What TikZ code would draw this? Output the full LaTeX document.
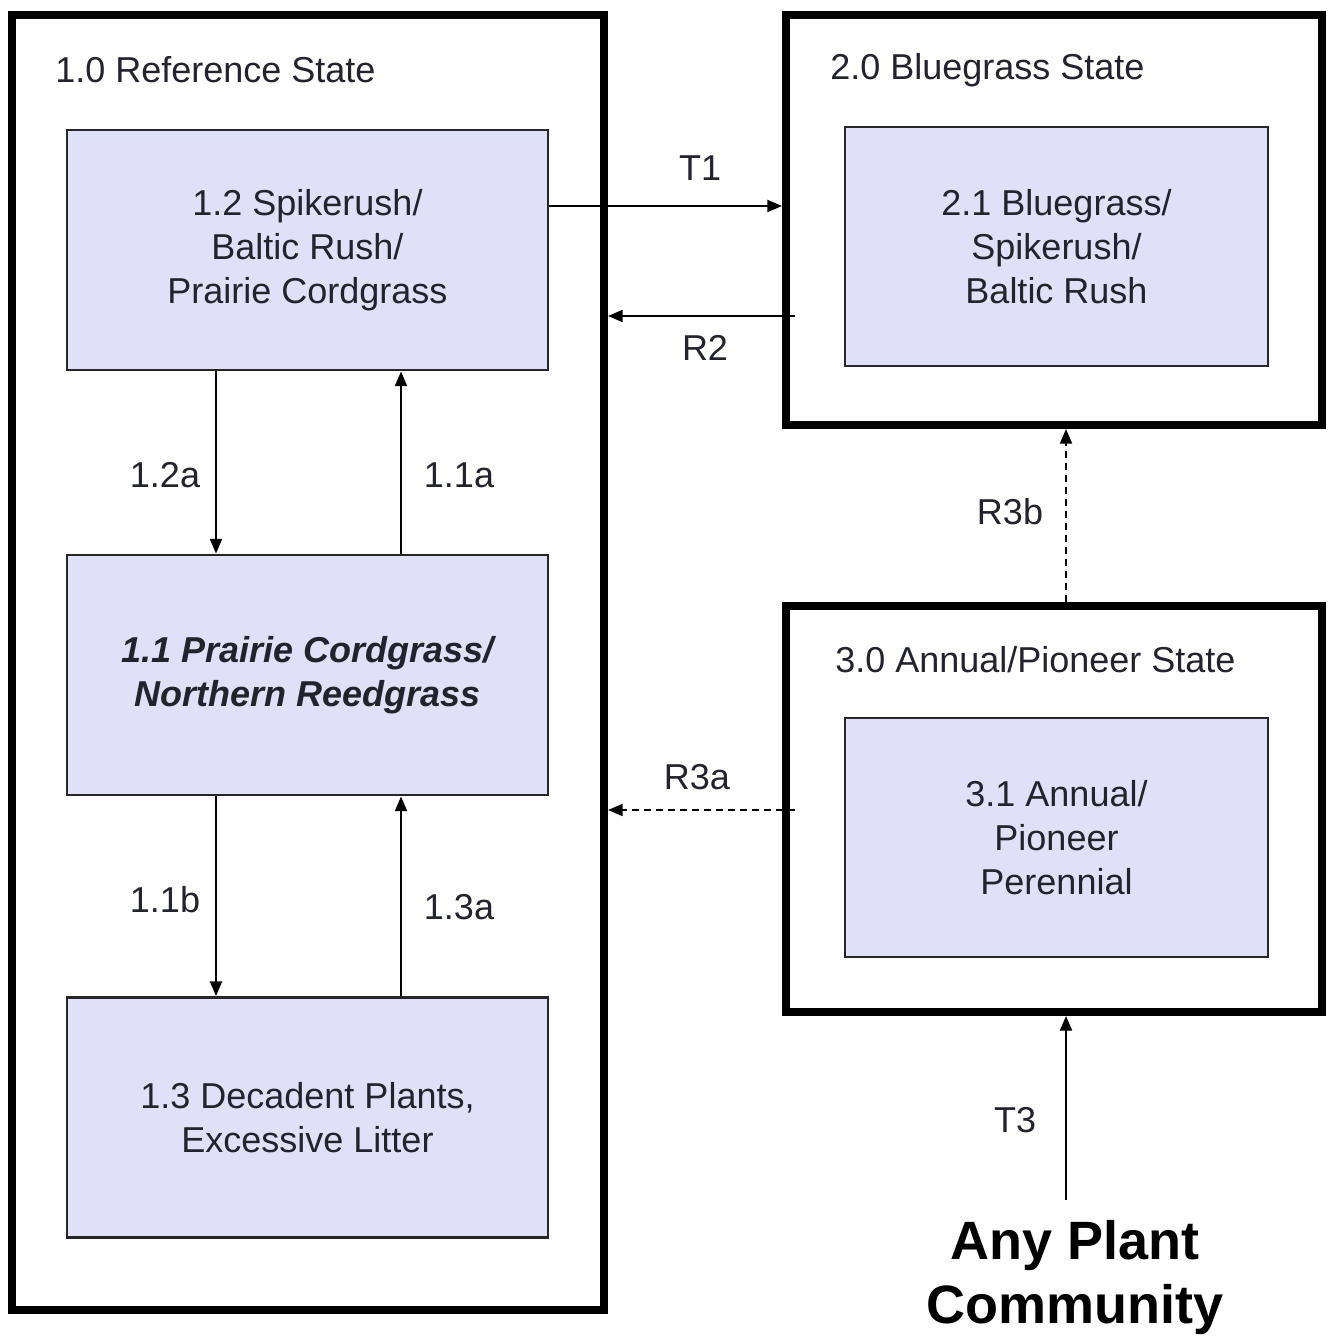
\documentclass[tikz,border=0pt]{standalone}
\usepackage{fontspec}
\setmainfont{Liberation Sans}
\usetikzlibrary{arrows.meta}
\definecolor{boxfill}{RGB}{224,224,248}
\definecolor{ink}{RGB}{35,35,45}
\begin{document}
\begin{tikzpicture}[x=0.75pt,y=-0.75pt,
  font=\fontsize{27}{33}\selectfont, text=ink,
  outerbox/.style={draw=black, line width=6pt, fill=white, inner sep=0pt},
  innerbox/.style={draw=black!85, line width=2.2pt, fill=boxfill, align=center, inner sep=0pt, minimum width=481*0.75pt, minimum height=240*0.75pt},
  innerboxb/.style={innerbox, minimum width=423*0.75pt, minimum height=239*0.75pt},
  title/.style={anchor=west, inner sep=0pt},
  lbl/.style={inner sep=0pt},
  arr/.style={line width=1.5pt, -{Triangle[length=11pt,width=9pt]}},
  darr/.style={arr, dash pattern=on 5pt off 4pt}
]
\useasboundingbox (0,0) rectangle (1330,1337);

% outer state boxes
\node[outerbox, minimum width=592*0.75pt, minimum height=1295*0.75pt] (S1) at (308,662.5) {};
\node[outerbox, minimum width=536*0.75pt, minimum height=410*0.75pt] (S2) at (1054,220) {};
\node[outerbox, minimum width=536*0.75pt, minimum height=406*0.75pt] (S3) at (1054,809) {};

\node[title] (t1) at (55,70) {1.0 Reference State};
\node[title] (t2) at (830,70) {2.0 Bluegrass State};
\node[title] (t3) at (835,660) {3.0 Annual/Pioneer State};

% community boxes
\node[innerbox] (b12) at (307.5,250) {1.2 Spikerush/\\Baltic Rush/\\Prairie Cordgrass};
\node[innerbox, font=\fontsize{27}{33}\selectfont\bfseries\itshape] (b11) at (307.5,675) {1.1 Prairie Cordgrass/\\Northern Reedgrass};
\node[innerbox] (b13) at (307.5,1117.5) {1.3 Decadent Plants,\\Excessive Litter};
\node[innerboxb] (b21) at (1056.5,246.5) {2.1 Bluegrass/\\Spikerush/\\Baltic Rush};
\node[innerboxb] (b31) at (1056.5,837.5) {3.1 Annual/\\Pioneer\\Perennial};

\node[align=center, inner sep=0pt, text=black, font=\fontsize{40.5}{48}\selectfont\bfseries] (apc) at (1075,1278) {Any Plant\\Community};

% helper coordinates
\coordinate (xL) at (216,0);
\coordinate (xR) at (401,0);
\coordinate (xV) at (1066,0);
\coordinate (yT1) at (0,206);
\coordinate (yR2) at (0,316);
\coordinate (yR3a) at (0,810);
\coordinate (r2start) at (795,316);
\coordinate (r3astart) at (795,810);
\coordinate (t3start) at (1066,1200);

% within reference state
\draw[arr] (b12.south -| xL) -- (b11.north -| xL);
\draw[arr] (b11.north -| xR) -- (b12.south -| xR);
\draw[arr] (b11.south -| xL) -- (b13.north -| xL);
\draw[arr] (b13.north -| xR) -- (b11.south -| xR);

% transitions
\draw[arr] (b12.east |- yT1) -- (S2.west |- yT1);
\draw[arr] (r2start) -- (S1.east |- yR2);
\draw[darr] (S3.north -| xV) -- (S2.south -| xV);
\draw[darr] (r3astart) -- (S1.east |- yR3a);
\draw[arr] (t3start) -- (S3.south -| xV);

% labels
\node[lbl] (l12a) at (165,475) {1.2a};
\node[lbl] (l11a) at (459,475) {1.1a};
\node[lbl] (l11b) at (165,900) {1.1b};
\node[lbl] (l13a) at (459,907) {1.3a};
\node[lbl] (lT1) at (700,168) {T1};
\node[lbl] (lR2) at (705,348) {R2};
\node[lbl] (lR3b) at (1010,512) {R3b};
\node[lbl] (lR3a) at (697,777) {R3a};
\node[lbl] (lT3) at (1015,1120) {T3};
\end{tikzpicture}
\end{document}
